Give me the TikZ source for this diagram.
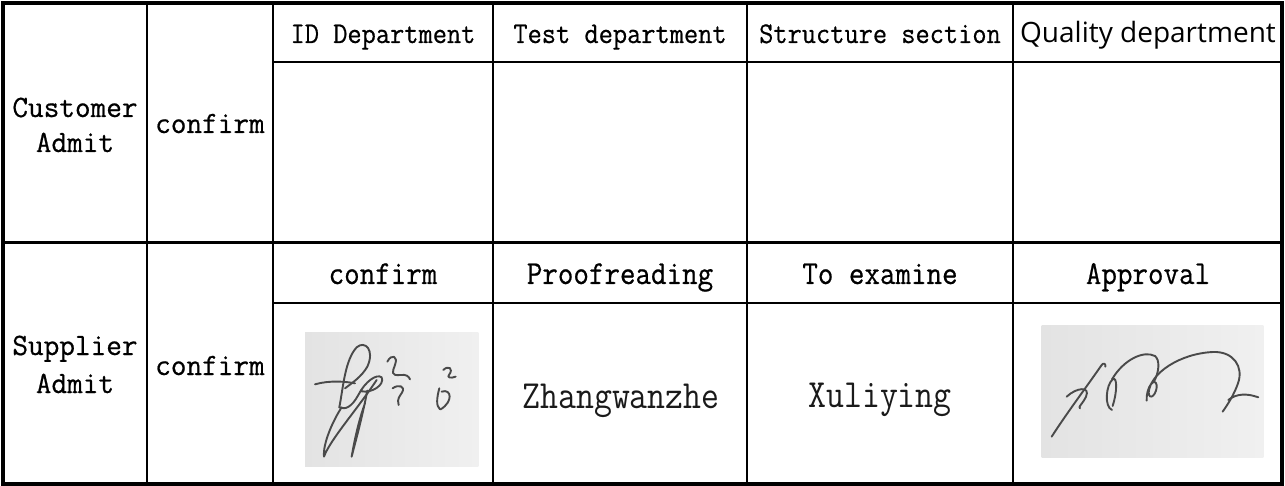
\documentclass[tikz,border=0pt]{standalone}
\usepackage{fontspec}
\usepackage{graphicx}
\setmonofont{Latin Modern Mono}[FakeBold=0.6]
\newfontfamily\thinmono{Latin Modern Mono}
\newfontfamily\qfont{Open Sans}
\newcommand{\mtx}[3]{\scalebox{#2}[1]{\fontsize{#1pt}{#1pt}\selectfont\ttfamily #3}}
\newcommand{\ntx}[3]{\scalebox{#2}[1]{\fontsize{#1pt}{#1pt}\selectfont\thinmono #3}}
\definecolor{inkgray}{HTML}{4A4A4A}
\definecolor{nametext}{HTML}{1A1A1A}
\definecolor{sigA}{HTML}{E3E3E3}
\definecolor{sigB}{HTML}{F0F0F0}
\tikzset{
  frameline/.style={line width=3.4pt, black},
  gridline/.style={line width=2.6pt, black},
  lbl/.style={inner sep=0pt, anchor=base},
  ink/.style={draw=inkgray, line width=1.9pt, line cap=round, line join=round},
}
\begin{document}
\begin{tikzpicture}[x=1pt,y=-1pt]
\useasboundingbox (0,0) rectangle (1285,486);
\fill[white] (0,0) rectangle (1285,486);

% grid
\draw[gridline] (273,62) -- (1282,62);
\draw[gridline] (273,303) -- (1282,303);
\foreach \xx in {147,273,493,747,1013} \draw[gridline] (\xx,3) -- (\xx,484);
\draw[frameline] (3,242.5) -- (1282,242.5);
\draw[frameline] (3,3) rectangle (1282,484);

% top headers
\node[lbl] (h1) at (383,43) {\mtx{30}{0.92}{ID Department}};
\node[lbl] (h2) at (620,43) {\mtx{30}{0.92}{Test department}};
\node[lbl] (h3) at (880,43) {\mtx{30}{0.92}{Structure section}};
\node[lbl] (h4) at (1148,43) {\qfont\fontsize{28}{28}\selectfont Quality department};

% left columns
\node[lbl] (c1a) at (75,117) {\mtx{31}{0.98}{Customer}};
\node[lbl] (c1b) at (75,152) {\mtx{31}{0.98}{Admit}};
\node[lbl] (c2) at (210,133) {\mtx{31}{0.98}{confirm}};
\node[lbl] (s1a) at (75,355) {\mtx{31}{0.98}{Supplier}};
\node[lbl] (s1b) at (75,393) {\mtx{31}{0.98}{Admit}};
\node[lbl] (s2) at (210,375) {\mtx{31}{0.98}{confirm}};

% second headers
\node[lbl] (r1) at (383,284) {\mtx{33.5}{0.9}{confirm}};
\node[lbl] (r2) at (620,284) {\mtx{33.5}{0.9}{Proofreading}};
\node[lbl] (r3) at (880,284) {\mtx{33.5}{0.9}{To examine}};
\node[lbl] (r4) at (1148,284) {\mtx{33.5}{0.9}{Approval}};

% names
\node[lbl, text=nametext] (n1) at (621,408) {\ntx{40}{0.87}{Zhangwanzhe}};
\node[lbl, text=nametext] (n2) at (880,407) {\ntx{40}{0.87}{Xuliying}};

% signature 1
\begin{scope}[xshift=280pt, yshift=-320pt, x=0.3333pt, y=-0.3333pt]
  \shade[left color=sigA, right color=sigB] (75,38) rectangle (595,440);
  \draw[ink] (105,193) .. controls (150,180) and (200,185) .. (225,190);
  \draw[ink] (178,262) .. controls (190,200) and (195,120) .. (230,82)
                       .. controls (255,60) and (285,90) .. (262,140)
                       .. controls (245,170) and (215,190) .. (195,205);
  \draw[ink] (178,262) .. controls (195,270) and (215,262) .. (235,225)
                       .. controls (255,185) and (290,160) .. (305,172)
                       .. controls (315,195) and (275,220) .. (245,214);
  \draw[ink] (290,180) .. controls (230,270) and (150,360) .. (132,410)
                       .. controls (128,370) and (160,300) .. (185,262);
  \draw[ink] (262,212) .. controls (245,300) and (225,370) .. (215,410)
                       .. controls (225,350) and (240,290) .. (255,250);
  \draw[ink] (322,125) .. controls (335,100) and (355,108) .. (345,135)
                       .. controls (338,155) and (330,168) .. (362,165)
                       .. controls (378,163) and (386,168) .. (390,178);
  \draw[ink] (338,205) .. controls (355,192) and (378,198) .. (366,218)
                       .. controls (360,228) and (350,236) .. (356,255);
  \draw[ink] (490,150) .. controls (505,135) and (522,145) .. (507,165)
                       .. controls (500,172) and (512,176) .. (527,170);
  \draw[ink] (478,205) .. controls (470,235) and (468,258) .. (480,268);
  \draw[ink] (485,215) .. controls (515,205) and (520,245) .. (482,268);
\end{scope}

% signature 2
\begin{scope}[xshift=1000pt, yshift=-300pt, x=0.3333pt, y=-0.3333pt]
  \shade[left color=sigA, right color=sigB] (125,78) rectangle (790,472);
  \draw[ink] (155,410) .. controls (200,340) and (260,260) .. (305,195)
                       .. controls (310,188) and (318,190) .. (316,200);
  \draw[ink] (200,290) .. controls (230,262) and (272,258) .. (258,290)
                       .. controls (248,312) and (232,322) .. (240,325);
  \draw[ink] (336,330) .. controls (312,320) and (318,255) .. (338,238)
                       .. controls (352,228) and (352,275) .. (338,318);
  \draw[ink] (336,238) .. controls (370,180) and (430,150) .. (465,168)
                       .. controls (480,180) and (478,215) .. (462,245);
  \draw[ink] (440,302) .. controls (438,260) and (465,230) .. (470,255)
                       .. controls (472,282) and (448,305) .. (446,278)
                       .. controls (450,220) and (540,160) .. (640,156)
                       .. controls (700,154) and (732,200) .. (714,250)
                       .. controls (702,285) and (682,315) .. (668,335);
  \draw[ink] (685,300) .. controls (710,280) and (742,280) .. (775,292);
\end{scope}
\end{tikzpicture}
\end{document}
